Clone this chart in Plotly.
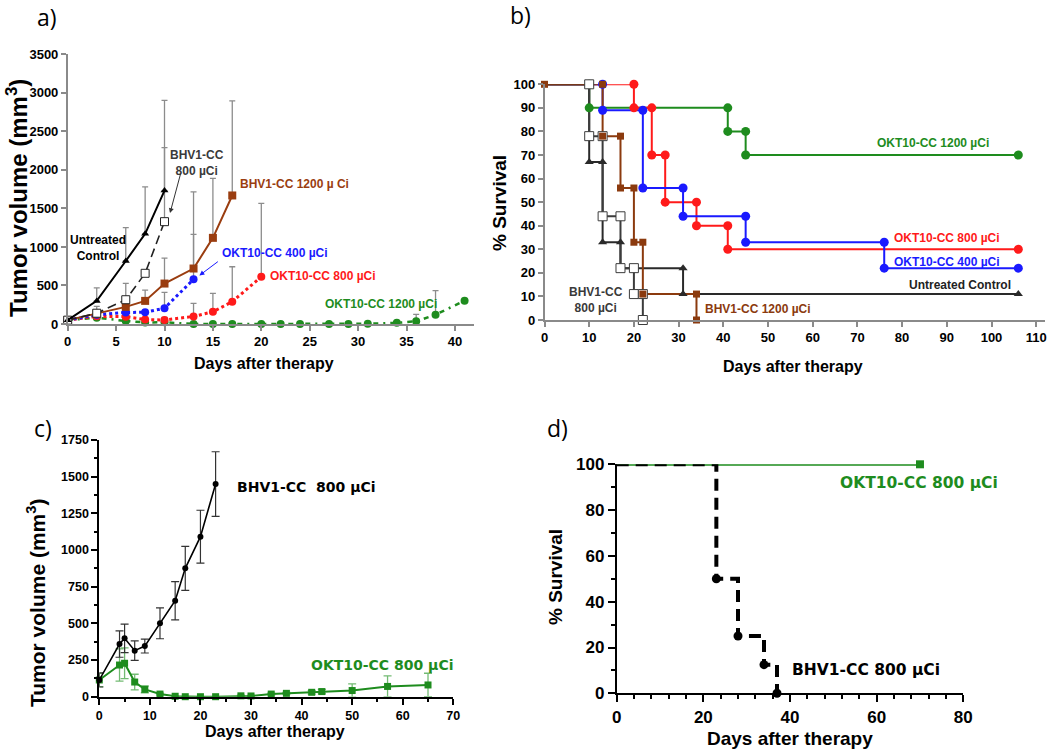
import plotly.graph_objects as go

W, H = 1050, 749

# ---------------- Panel a: tumor volume ----------------
a_ctrl_days = [0, 3, 6, 8, 10]
a_ctrl_vol = [50, 300, 818, 1170, 1731]
a_ctrl_err_days = [3, 6, 8, 10]
a_ctrl_err = [170, 432, 610, 1170]

a_bhv800_days = [0, 3, 6, 8, 10]
a_bhv800_vol = [50, 140, 315, 658, 1328]
a_bhv800_err_days = [6, 10]
a_bhv800_err = [212, 962]

a_bhv1200_days = [0, 3, 6, 8, 10, 13, 15, 17]
a_bhv1200_vol = [50, 135, 222, 300, 525, 720, 1118, 1668]
a_bhv1200_err_days = [3, 8, 10, 13, 15, 17]
a_bhv1200_err = [95, 140, 330, 995, 771, 1227]

a_okt400_days = [0, 3, 6, 8, 10, 13]
a_okt400_vol = [50, 120, 150, 152, 205, 580]
a_okt400_err_days = [10, 13]
a_okt400_err = [205, 583]

a_okt800_days = [0, 3, 6, 8, 10, 13, 15, 17, 20]
a_okt800_vol = [50, 100, 95, 58, 52, 98, 158, 290, 613]
a_okt800_err_days = [10, 13, 15, 17, 20]
a_okt800_err = [35, 170, 240, 453, 952]

a_okt1200_days = [0, 3, 6, 8, 10, 13, 15, 17, 20, 22, 24, 27, 29, 31, 34, 36, 38, 41]
a_okt1200_vol = [50, 82, 39, 20, 22, 0, 0, 0, 0, 0, 0, 0, 0, 3, 15, 35, 121, 302]
a_okt1200_err_days = [36, 38]
a_okt1200_err = [91, 311]

# ---------------- Panel b: survival ----------------
b_okt1200_t = [10, 41, 45]
b_okt1200_s = [90, 80, 70]
b_okt1200_end = 106
b_okt800_t = [20, 24, 27, 34, 41]
b_okt800_s = [90, 70, 50, 40, 30]
b_okt800_end = 106
b_okt400_t = [13, 22, 31, 45, 76]
b_okt400_s = [89, 56, 44, 33, 22]
b_okt400_end = 106
b_ctrl_t = [10, 13, 17, 31]
b_ctrl_s = [67, 33, 22, 11]
b_ctrl_end = 106
b_bhv800_t = [10, 13, 17, 20, 22]
b_bhv800_s = [78, 44, 22, 11, 0]
b_bhv1200_t = [13, 17, 20, 22, 34]
b_bhv1200_s = [78, 56, 33, 11, 0]

# ---------------- Panel c: tumor volume ----------------
c_bhv_days = [0, 4, 5, 7, 9, 12, 15, 17, 20, 23]
c_bhv_vol = [114, 359, 398, 314, 345, 500, 654, 875, 1091, 1450]
c_bhv_err = [48, 90, 97, 66, 47, 105, 130, 150, 180, 220]
c_okt_days = [0, 4, 5, 7, 9, 12, 15, 17, 20, 23, 28, 30, 34, 37, 42, 44, 50, 57, 65]
c_okt_vol = [114, 216, 228, 100, 50, 18, 3, 0, 0, 0, 6, 5, 18, 23, 30, 35, 42, 70, 80]
c_okt_err = [45, 110, 105, 53, 23, 6, 0, 0, 0, 0, 4, 4, 6, 6, 12, 15, 45, 72, 80]

# ---------------- Panel d: survival ----------------
d_okt_t = [0, 70]
d_okt_s = [100, 100]
d_bhv_t = [0, 23, 28, 34, 37]
d_bhv_s = [100, 50, 25, 12.5, 0]

GREEN = "#1E8C1E"
RED = "#FF1A1A"
BLUE = "#1A1AFF"
BROWN = "#9A3D10"
DGRAY = "#3A3A3A"
AXGRAY = "#8A8A8A"
ERRGRAY = "#8C8C8C"
FONT = "Liberation Sans, Arial, sans-serif"
VFONT = "DejaVu Sans, Verdana, sans-serif"

fig = go.Figure()


def add(tr):
    tr.cliponaxis = False
    fig.add_trace(tr)


# ---- panel a traces ----
def err_trace(days, vals, edays, errs, ax):
    lut = dict(zip(days, vals))
    add(go.Scatter(x=edays, y=[lut[d] for d in edays], mode="markers",
                   marker=dict(size=1, color="rgba(0,0,0,0)"),
                   error_y=dict(type="data", symmetric=False, array=errs,
                                arrayminus=[0] * len(errs), color=ERRGRAY,
                                thickness=1.3, width=3),
                   xaxis=ax[0], yaxis=ax[1], showlegend=False, hoverinfo="skip"))


A = ("x", "y")
err_trace(a_ctrl_days, a_ctrl_vol, a_ctrl_err_days, a_ctrl_err, A)
err_trace(a_bhv800_days, a_bhv800_vol, a_bhv800_err_days, a_bhv800_err, A)
err_trace(a_bhv1200_days, a_bhv1200_vol, a_bhv1200_err_days, a_bhv1200_err, A)
err_trace(a_okt400_days, a_okt400_vol, a_okt400_err_days, a_okt400_err, A)
err_trace(a_okt800_days, a_okt800_vol, a_okt800_err_days, a_okt800_err, A)
err_trace(a_okt1200_days, a_okt1200_vol, a_okt1200_err_days, a_okt1200_err, A)

add(go.Scatter(x=a_okt1200_days, y=a_okt1200_vol, mode="lines+markers",
               line=dict(color=GREEN, width=2.5, dash="5px,5px,2px,5px"),
               marker=dict(symbol="circle", size=8, color=GREEN), showlegend=False))
add(go.Scatter(x=a_okt800_days, y=a_okt800_vol, mode="lines+markers",
               line=dict(color=RED, width=3, dash="dot"),
               marker=dict(symbol="circle", size=8, color=RED), showlegend=False))
add(go.Scatter(x=a_okt400_days, y=a_okt400_vol, mode="lines+markers",
               line=dict(color=BLUE, width=3, dash="dot"),
               marker=dict(symbol="circle", size=8, color=BLUE), showlegend=False))
add(go.Scatter(x=a_bhv1200_days, y=a_bhv1200_vol, mode="lines+markers",
               line=dict(color=BROWN, width=2),
               marker=dict(symbol="square", size=8, color=BROWN), showlegend=False))
add(go.Scatter(x=a_bhv800_days, y=a_bhv800_vol, mode="lines+markers",
               line=dict(color="#222222", width=1.6, dash="9px,5px"),
               marker=dict(symbol="square", size=8, color="white",
                           line=dict(color="#222222", width=1)), showlegend=False))
add(go.Scatter(x=a_ctrl_days, y=a_ctrl_vol, mode="lines+markers",
               line=dict(color="black", width=2),
               marker=dict(symbol="triangle-up", size=7, color="black"), showlegend=False))


# ---- panel b traces ----
def km(t, s, end):
    xs = [0] + list(t)
    ys = [100] + list(s)
    if end is not None:
        xs.append(end)
        ys.append(s[-1])
    mx, my = [], []
    prev = 100
    for ti, si in zip(t, s):
        mx += [ti, ti]
        my += [prev, si]
        prev = si
    if end is not None:
        mx.append(end)
        my.append(s[-1])
    return xs, ys, mx, my


b_series = [
    (b_okt1200_t, b_okt1200_s, b_okt1200_end, GREEN, dict(symbol="circle", size=9, color=GREEN)),
    (b_okt800_t, b_okt800_s, b_okt800_end, RED, dict(symbol="circle", size=9, color=RED)),
    (b_okt400_t, b_okt400_s, b_okt400_end, BLUE, dict(symbol="circle", size=9, color=BLUE)),
    (b_ctrl_t, b_ctrl_s, b_ctrl_end, "#2A2A2A", dict(symbol="triangle-up", size=8, color="#2A2A2A")),
    (b_bhv800_t, b_bhv800_s, None, "#3C3C3C",
     dict(symbol="square", size=9, color="white", line=dict(color="#3C3C3C", width=1))),
    (b_bhv1200_t, b_bhv1200_s, None, "#8B3A0E", dict(symbol="square", size=7, color="#8B3A0E")),
]
for t, s, end, col, mk in b_series:
    xs, ys, mx, my = km(t, s, end)
    add(go.Scatter(x=xs, y=ys, mode="lines", line=dict(color=col, width=2, shape="hv"),
                   xaxis="x2", yaxis="y2", showlegend=False))
for t, s, end, col, mk in b_series:
    xs, ys, mx, my = km(t, s, end)
    if col == "#8B3A0E":
        mx = [0] + mx
        my = [100] + my
    add(go.Scatter(x=mx, y=my, mode="markers", marker=mk,
                   xaxis="x2", yaxis="y2", showlegend=False))

# ---- panel c traces ----
add(go.Scatter(x=c_okt_days, y=c_okt_vol, mode="lines+markers",
               line=dict(color=GREEN, width=2),
               marker=dict(symbol="square", size=7, color=GREEN),
               error_y=dict(type="data", array=c_okt_err, color="rgba(40,150,40,0.65)",
                            thickness=1.3, width=4),
               xaxis="x3", yaxis="y3", showlegend=False))
add(go.Scatter(x=c_bhv_days, y=c_bhv_vol, mode="lines+markers",
               line=dict(color="black", width=1.6),
               marker=dict(symbol="circle", size=6, color="black"),
               error_y=dict(type="data", array=c_bhv_err, color="#333333",
                            thickness=1.2, width=4),
               xaxis="x3", yaxis="y3", showlegend=False))

# ---- panel d traces ----
add(go.Scatter(x=d_okt_t, y=d_okt_s, mode="lines", line=dict(color=GREEN, width=3),
               xaxis="x4", yaxis="y4", showlegend=False))
add(go.Scatter(x=[d_okt_t[-1]], y=[d_okt_s[-1]], mode="markers",
               marker=dict(symbol="square", size=8, color=GREEN),
               xaxis="x4", yaxis="y4", showlegend=False))
add(go.Scatter(x=d_bhv_t, y=d_bhv_s, mode="lines",
               line=dict(color="black", width=4, dash="12px,7px", shape="hv"),
               xaxis="x4", yaxis="y4", showlegend=False))
add(go.Scatter(x=d_bhv_t[1:], y=d_bhv_s[1:], mode="markers",
               marker=dict(symbol="circle", size=9, color="black"),
               xaxis="x4", yaxis="y4", showlegend=False))


# ---------------- layout ----------------
def dxp(p0, p1):
    return [p0 / W, p1 / W]


def dyp(top, bottom):
    return [1 - bottom / H, 1 - top / H]


def axis(domain, rng, dtick, color, lw, fs, ticklen, minor=None, anchor=None):
    d = dict(domain=domain, range=rng, dtick=dtick, tick0=0, showgrid=False, zeroline=False,
             showline=True, linecolor=color, linewidth=lw, ticks="outside", tickcolor=color,
             tickwidth=lw, ticklen=ticklen, automargin=False,
             tickfont=dict(family=FONT, size=fs, color="black", weight="bold"),
             anchor=anchor, fixedrange=True)
    if minor is not None:
        d["minor"] = dict(dtick=minor, ticks="outside", ticklen=ticklen * 0.55,
                          tickcolor=color, tickwidth=lw, showgrid=False)
    return d


ax_x0, ax_s = 67.7, 9.68
layout = dict(
    width=W, height=H, autosize=False, margin=dict(l=0, r=0, t=0, b=0, pad=0),
    paper_bgcolor="white", plot_bgcolor="white", showlegend=False,
    xaxis=axis(dxp(ax_x0, ax_x0 + 42 * ax_s), [0, 42], 5, AXGRAY, 1.5, 13, 5, anchor="y"),
    yaxis=axis(dyp(54.3, 324), [0, 3500], 500, AXGRAY, 1.5, 13, 5, anchor="x"),
    xaxis2=axis(dxp(544.5, 544.5 + 112 * 4.47), [0, 112], 10, AXGRAY, 1.5, 13, 5, anchor="y2"),
    yaxis2=axis(dyp(84.3, 320), [0, 100], 10, AXGRAY, 1.5, 13, 5, anchor="x2"),
    xaxis3=axis(dxp(99.3, 453.3), [0, 70], 10, "black", 1.8, 12.5, 6, minor=5, anchor="y3"),
    yaxis3=axis(dyp(440, 696.7), [0, 1750], 250, "black", 1.8, 12.5, 6, minor=125, anchor="x3"),
    xaxis4=axis(dxp(616.7, 963.3), [0, 80], 20, "black", 1.8, 17, 7, minor=4, anchor="y4"),
    yaxis4=axis(dyp(464.3, 693.3), [0, 100], 20, "black", 1.8, 17, 7, minor=10, anchor="x4"),
)
fig.update_layout(**layout)

ann = []


def P(x, y):
    return x / W, 1 - y / H


def text(x, y, s, size, color="black", xanchor="left", angle=0, family=FONT, bold=True):
    px, py = P(x, y)
    ann.append(dict(x=px, y=py, xref="paper", yref="paper", text=("<b>%s</b>" % s) if bold else s,
                    showarrow=False, xanchor=xanchor, yanchor="middle", textangle=angle,
                    font=dict(family=family, size=size, color=color)))


# panel letters
for lab, (x, y) in zip(["a)", "b)", "c)", "d)"], [(47, 17), (520, 15), (43, 428), (557, 428)]):
    text(x, y, lab, 23, xanchor="center", family="Open Sans, sans-serif", bold=False)

# axis titles
text(17, 198, "Tumor volume (mm<sup>3</sup>)", 24, xanchor="center", angle=-90)
text(264, 363, "Days after therapy", 16, xanchor="center")
text(500, 203, "% Survival", 19, xanchor="center", angle=-90)
text(793, 366, "Days after therapy", 16, xanchor="center")
text(36, 603, "Tumor volume (mm<sup>3</sup>)", 21, xanchor="center", angle=-90)
text(275, 731, "Days after therapy", 16, xanchor="center")
text(555, 577, "% Survival", 19, xanchor="center", angle=-90)
text(790, 738, "Days after therapy", 19, xanchor="center")

# panel a labels
text(98, 248, "Untreated<br>Control", 12, xanchor="center")
text(196.5, 163, "BHV1-CC<br>800 µCi", 12, color=DGRAY, xanchor="center")
text(237.7, 184.3, "BHV1-CC 1200 µ Ci", 12, color=BROWN)
text(220, 253.3, "OKT10-CC 400 µCi", 12, color=BLUE)
text(268, 276, "OKT10-CC 800 µCi", 12, color=RED)
text(323, 304, "OKT10-CC 1200 µCi", 12, color=GREEN)
ann.append(dict(x=10.57, y=1439, xref="x", yref="y", text="", showarrow=True, ax=11, ay=-41,
                arrowhead=2, arrowsize=1, arrowwidth=1, arrowcolor="#333333"))
ann.append(dict(x=13.6, y=629, xref="x", yref="y", text="", showarrow=True, ax=20, ay=-15,
                arrowhead=2, arrowsize=1, arrowwidth=1, arrowcolor=BLUE))

# panel b labels
text(875, 143, "OKT10-CC 1200 µCi", 12, color=GREEN)
text(891.7, 238.3, "OKT10-CC 800 µCi", 12, color=RED)
text(891.7, 261.7, "OKT10-CC 400 µCi", 12, color=BLUE)
text(906.7, 285, "Untreated Control", 12, color="#222222")
text(703, 309.3, "BHV1-CC 1200 µCi", 12, color="#8B3A0E")
text(596, 300, "BHV1-CC<br>800 µCi", 12, color=DGRAY, xanchor="center")

# panel c labels
text(235, 487, "BHV1-CC\u00a0 800 µCi", 14, family=VFONT)
text(309, 665, "OKT10-CC 800 µCi", 14, color=GREEN, family=VFONT)

# panel d labels
text(838, 482.7, "OKT10-CC 800 µCi", 15.5, color=GREEN, family=VFONT)
text(790, 670, "BHV1-CC 800 µCi", 15.5, family=VFONT)

fig.update_layout(annotations=ann)
fig.write_html("out.html", config={"displayModeBar": False},
               post_script="document.body.style.margin='0px';")
